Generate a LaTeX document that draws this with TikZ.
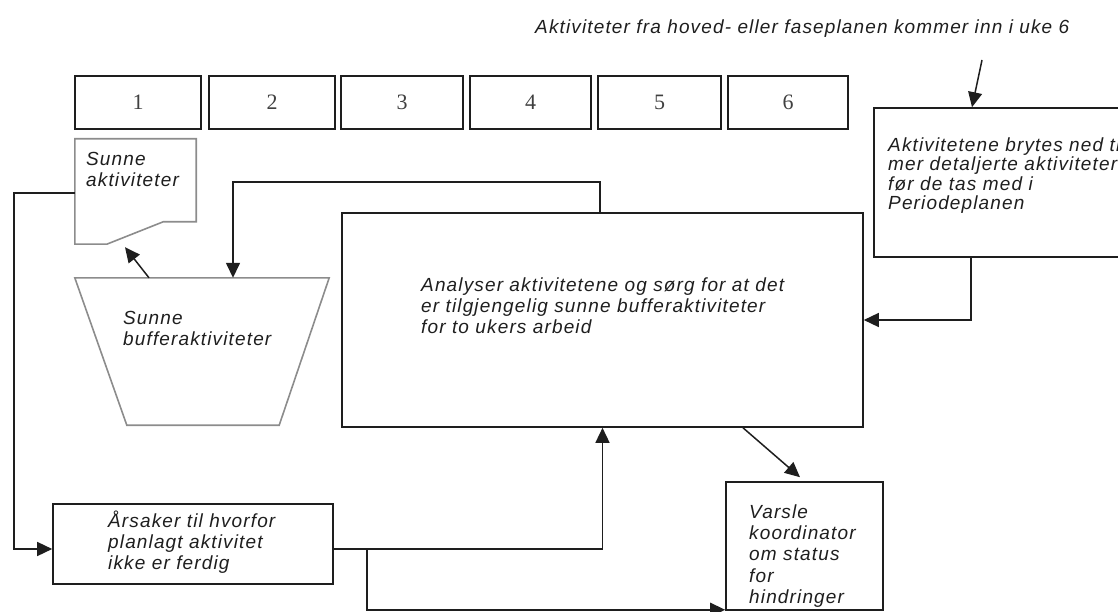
\documentclass[tikz,border=0pt]{standalone}
\usepackage{fontspec}
\usetikzlibrary{arrows.meta,calc}
\newfontfamily\lblfont{Liberation Sans}[LetterSpace=6]
\newfontfamily\wkfont{Liberation Serif}
\newcommand\lineup{\rule{0pt}{18pt}}
\definecolor{ink}{HTML}{1E1E1E}
\definecolor{shade}{HTML}{8C8C8C}
\begin{document}
\begin{tikzpicture}[x=1pt,y=-1pt,
  box/.style={draw=ink,line width=1.6pt,inner sep=0pt,rectangle},
  wkbox/.style={box,minimum height=53pt,font=\wkfont\fontsize{22}{24}\selectfont,text=ink!85},
  ghost/.style={inner sep=0pt,rectangle},
  lbl/.style={inner sep=0pt,anchor=north west,align=left,text=ink,font=\lblfont\itshape\fontsize{19}{21.3}\selectfont},
  arr/.style={draw=ink,line width=1.5pt,-{Triangle[length=15pt,width=14pt]}},
  shapeline/.style={draw=shade,line width=1.6pt}]
\useasboundingbox (0,0) rectangle (1118,612);
\clip (0,0) rectangle (1118,612);

% week boxes
\node[wkbox,minimum width=126pt] (w1) at (138,102.5) {1};
\node[wkbox,minimum width=126pt] (w2) at (272,102.5) {2};
\node[wkbox,minimum width=122pt] (w3) at (402,102.5) {3};
\node[wkbox,minimum width=121pt] (w4) at (530.5,102.5) {4};
\node[wkbox,minimum width=123pt] (w5) at (659.5,102.5) {5};
\node[wkbox,minimum width=120pt] (w6) at (788,102.5) {6};

% document shape
\node[ghost,minimum width=121pt,minimum height=105pt] (doc) at (135.5,191.5) {};
\draw[shapeline,fill=white]
  (doc.north west) -- (doc.north east) -- ($(doc.north east)+(0,83)$)
  -- ($(doc.north east)+(-33,83)$) -- ($(doc.south west)+(32,0)$)
  -- (doc.south west) -- cycle;
\node[lbl] (doctxt) at (86,147) {\lineup Sunne\\aktiviteter};

% buffer trapezoid
\node[ghost,minimum width=254pt,minimum height=147pt] (buf) at (202,351.5) {};
\draw[shapeline]
  (buf.north west) -- (buf.north east) -- ($(buf.south east)+(-50,0)$)
  -- ($(buf.south west)+(52,0)$) -- cycle;
\node[lbl] (buftxt) at (123,306) {\lineup Sunne\\bufferaktiviteter};

% main analysis box
\node[box,minimum width=521pt,minimum height=214pt] (big) at (602.5,320) {};
\node[lbl] (bigtxt) at (421,273) {\lineup Analyser aktivitetene og sørg for at det\\er tilgjengelig sunne bufferaktiviteter\\for to ukers arbeid};

% breakdown box on the right
\node[box,minimum width=256pt,minimum height=149pt] (rbox) at (1002,182.5) {};
\node[lbl,font=\lblfont\itshape\fontsize{19}{19.5}\selectfont] (rtxt) at (888,133) {\lineup Aktivitetene brytes ned til\\mer detaljerte aktiviteter\\før de tas med i\\Periodeplanen};

% causes box
\node[box,minimum width=280pt,minimum height=80pt] (aar) at (193,544) {};
\node[lbl] (aartxt) at (108,509) {\lineup Årsaker til hvorfor\\planlagt aktivitet\\ikke er ferdig};

% notify box
\node[box,minimum width=157pt,minimum height=128pt] (var) at (804.5,546) {};
\node[lbl] (vartxt) at (749,500) {\lineup Varsle\\koordinator\\om status\\for\\hindringer};

% incoming note
\node[lbl,anchor=base west] (top) at (535,34) {Aktiviteter fra hoved- eller faseplanen kommer inn i uke 6};
\coordinate (src) at (982,60);

% connectors
\draw[arr] ([yshift=-1.5pt]doc.west) -- ++(-61,0) |- ([yshift=-5pt]aar.west);
\draw[arr] ([yshift=-5pt]aar.east) -| (big.south);
\draw[arr] ([xshift=33pt,yshift=-5pt]aar.east) |- ([yshift=1pt]var.south west);
\draw[arr] ([xshift=-2.5pt]big.north) -- ++(0,-30) -| ([xshift=31pt]buf.north);
\draw[arr] ([xshift=-53pt]buf.north) -- ([xshift=-10.5pt,yshift=-3pt]doc.south);
\draw[arr] ([xshift=140.5pt]big.south) -- ([xshift=-4.5pt,yshift=4pt]var.north);
\draw[arr] ([xshift=-31pt]rbox.south) |- (big.east);
\draw[arr] (src) -- ([xshift=-30pt]rbox.north);
\end{tikzpicture}
\end{document}
